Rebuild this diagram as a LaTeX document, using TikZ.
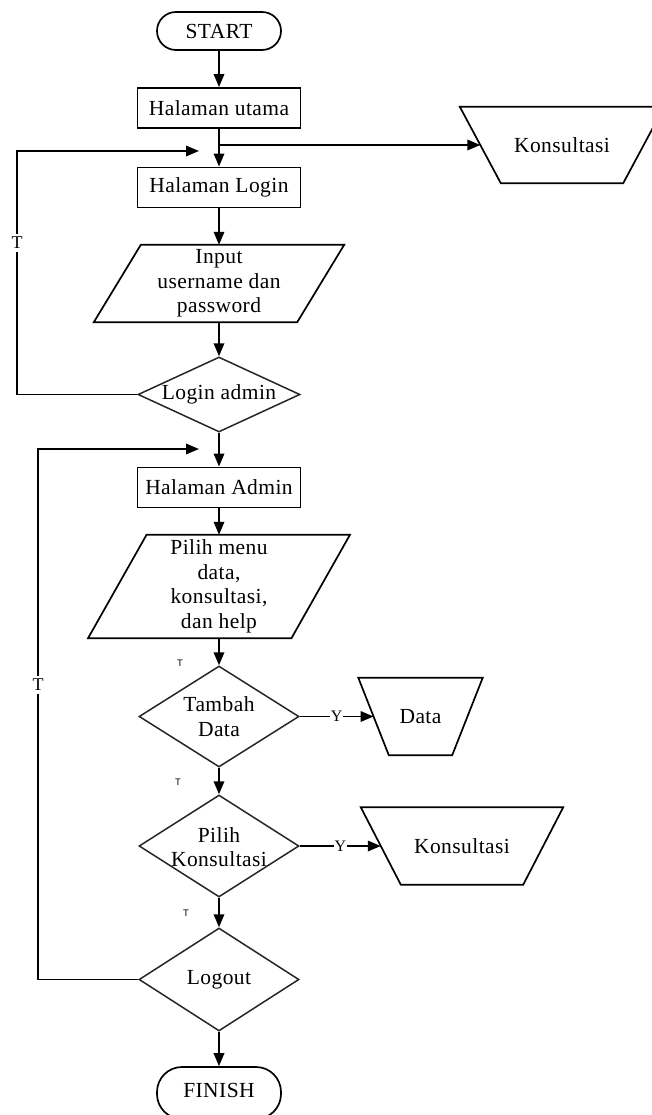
\documentclass[tikz,border=0pt]{standalone}
\usepackage{fontspec}
\setmainfont{Liberation Serif}[LetterSpace=2]
\newfontfamily\smallsans{Liberation Sans}
\usetikzlibrary{shapes.geometric, arrows.meta, calc}

\begin{document}
\begin{tikzpicture}[x=1pt, y=-1pt,
  font=\fontsize{21.5}{24.5}\selectfont,
  arr/.style={draw=black, line width=1.8pt, -{Triangle[length=13pt,width=10.5pt]}},
  term/.style={draw=black, line width=1.7pt, rectangle, minimum width=124pt, inner sep=0pt},
  proc/.style={draw=black, line width=1.9pt, rectangle, minimum width=163pt, minimum height=40pt, inner sep=0pt},
  slantbox/.style={inner sep=0pt, align=center},
  outline/.style={draw=black, line width=1.7pt},
  dec/.style={diamond, draw=black!85, line width=1.5pt, inner sep=0pt},
  dectext/.style={inner sep=0pt, align=center},
  ylbl/.style={fill=white, inner sep=1pt, font=\fontsize{16}{16}\selectfont},
  looplbl/.style={fill=white, inner xsep=1pt, inner ysep=3pt, font=\fontsize{18}{18}\selectfont},
  smallt/.style={inner sep=0pt, font=\smallsans\fontsize{9.5}{9.5}\selectfont}
]
\useasboundingbox (0,0) rectangle (652,1115);

% ---- main column -------------------------------------------------------
\node[term, minimum height=38pt, rounded corners=19pt] (start) at (219,31) {START};
\node[proc] (utama) at (219,108) {Halaman utama};
\node[proc] (login) at (219,187.5) {Halaman Login};

% input parallelogram
\node[slantbox, minimum width=203pt, minimum height=77pt] (input) at (219,283.5)
  {Input\\username dan\\password};
\draw[outline] ([xshift=-23.5pt]input.south west) -- ([xshift=-23.5pt]input.south east)
  -- ([xshift=23.5pt]input.north east) -- ([xshift=23.5pt]input.north west) -- cycle;

\node[dec, minimum width=162pt, minimum height=75pt] (logadm) at (219,394.5) {};
\node[dectext] (logadmt) at (logadm) {Login admin};

\node[proc] (admin) at (219,487.5) {Halaman Admin};

% menu parallelogram
\node[slantbox, minimum width=203pt, minimum height=103pt] (menu) at (219,586.5)
  {Pilih menu\\data,\\konsultasi,\\dan help};
\draw[outline] ([xshift=-29.25pt]menu.south west) -- ([xshift=-29.25pt]menu.south east)
  -- ([xshift=29.25pt]menu.north east) -- ([xshift=29.25pt]menu.north west) -- cycle;

\node[dec, minimum width=160pt, minimum height=101pt] (tambah) at (219,716.5) {};
\node[dectext] (tambaht) at (tambah) {Tambah\\Data};

\node[dec, minimum width=160pt, minimum height=102pt] (pilih) at (219,846) {};
\node[dectext] (piliht) at ([yshift=-1pt]pilih.center) {Pilih\\Konsultasi};

\node[dec, minimum width=160pt, minimum height=103pt] (logout) at (219,979.5) {};
\node[dectext] (logoutt) at (logout) {Logout};

% terminal at the foot runs past the lower page edge
\node[term, minimum height=52pt, rounded corners=25pt] (finish) at (219,1093) {};
\node[dectext] (finisht) at (219,1090) {FINISH};

% ---- output boxes on the right ------------------------------------------
\node[slantbox, minimum width=122pt, minimum height=76pt] (kons1) at (562,145) {Konsultasi};
\draw[outline] (kons1.south west) -- (kons1.south east)
  -- ([xshift=41pt]kons1.north east) -- ([xshift=-41pt]kons1.north west) -- cycle;

\node[slantbox, minimum width=63pt, minimum height=77pt] (data) at (420.5,716.5) {Data};
\draw[outline] (data.south west) -- (data.south east)
  -- ([xshift=30.5pt]data.north east) -- ([xshift=-30.5pt]data.north west) -- cycle;

\node[slantbox, minimum width=122pt, minimum height=77pt] (kons2) at (462,846) {Konsultasi};
\draw[outline] (kons2.south west) -- (kons2.south east)
  -- ([xshift=40pt]kons2.north east) -- ([xshift=-40pt]kons2.north west) -- cycle;

% ---- connectors ----------------------------------------------------------
\coordinate (split) at (219,145);
\coordinate (back1) at (17,151);
\coordinate (in1) at (199,151);
\coordinate (back2) at (38,449);
\coordinate (in2) at (199,449);

\draw[arr] (start.south) -- (utama.north);
\draw[arr] (utama.south) -- (login.north);
\draw[arr] (split) -- ([xshift=-20.5pt]kons1.west);
\draw[arr] (login.south) -- (input.north);
\draw[arr] (input.south) -- (logadm.north);
\draw[arr] (logadm.south) -- (admin.north);
\draw[arr] (admin.south) -- (menu.north);
\draw[arr] (menu.south) -- (tambah.north);
\draw[arr] (tambah.south) -- (pilih.north);
\draw[arr] (pilih.south) -- (logout.north);
\draw[arr] (logout.south) -- (finish.north);

% loop back to the login page
\draw[arr] (logadm.west) -| (back1) -- (in1);
\node[looplbl] (tback1) at (17,243) {T};

% loop back to the admin page
\draw[arr] (logout.west) -| (back2) -- (in2);
\node[looplbl] (tback2) at (38,685) {T};

% yes branches
\draw[arr] (tambah.east) -- ([xshift=-15.25pt]data.west) node[ylbl, pos=0.5] (ydata) {Y};
\draw[arr] (pilih.east) -- ([xshift=-20pt]kons2.west) node[ylbl, pos=0.5] (ykons) {Y};

% small "no" markers
\node[smallt] (n1) at (180,663) {T};
\node[smallt] (n2) at (178,782) {T};
\node[smallt] (n3) at (186,913) {T};
\end{tikzpicture}
\end{document}
